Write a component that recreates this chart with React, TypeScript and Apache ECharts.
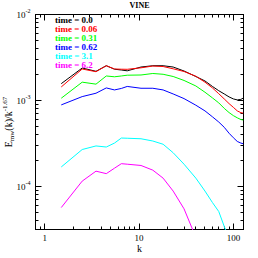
import React, { useEffect, useRef } from 'react';
import * as echarts from 'echarts';

// wavenumbers k (shared by all curves)
const K = [1.5, 2.5, 3.5, 4.5, 5.5, 6.5, 7.5, 10.5, 14, 18, 23, 30, 40, 50, 60, 70, 80, 90, 100, 110, 120, 127];

// compensated spectra E(k)/k^-1.67 at each time
const E_T00 = [1.57e-3, 2.386e-3, 2.185e-3, 2.537e-3, 2.311e-3, 2.262e-3, 2.214e-3, 2.451e-3, 2.537e-3, 2.537e-3, 2.451e-3, 2.203e-3, 1.902e-3, 1.687e-3, 1.457e-3, 1.299e-3, 1.192e-3, 1.101e-3, 1.043e-3, 1.016e-3, 1.03e-3, 1.066e-3];
const E_T006 = [1.438e-3, 2.324e-3, 2.162e-3, 2.537e-3, 2.324e-3, 2.311e-3, 2.305e-3, 2.399e-3, 2.517e-3, 2.484e-3, 2.336e-3, 2.174e-3, 1.912e-3, 1.634e-3, 1.4e-3, 1.199e-3, 1.043e-3, 9.2e-4, 8.32e-4, 7.57e-4, 7.22e-4, 7.12e-4];
const E_T031 = [1.063e-3, 1.634e-3, 1.549e-3, 1.928e-3, 1.887e-3, 1.928e-3, 1.969e-3, 1.98e-3, 2.061e-3, 2.018e-3, 1.902e-3, 1.71e-3, 1.476e-3, 1.248e-3, 1.072e-3, 9.38e-4, 8.1e-4, 7.24e-4, 6.67e-4, 6.29e-4, 6.01e-4, 5.93e-4];
const E_T062 = [8.89e-4, 1.11e-3, 1.215e-3, 1.4e-3, 1.327e-3, 1.381e-3, 1.457e-3, 1.388e-3, 1.388e-3, 1.327e-3, 1.192e-3, 1.052e-3, 8.82e-4, 7.57e-4, 6.46e-4, 5.62e-4, 4.88e-4, 4.16e-4, 3.69e-4, 3.34e-4, 3.2e-4, 3.14e-4];
const E_T31 = [1.687e-4, 2.691e-4, 2.962e-4, 2.877e-4, 3.2e-4, 3.66e-4, 3.64e-4, 3.59e-4, 3.38e-4, 3.1e-4, 2.47e-4, 1.817e-4, 1.251e-4, 8.85e-5, 6.51e-5, 5.12e-5, 3.43e-5, 2.42e-5, 1.86e-5, 1.5e-5, 1.25e-5, 1.15e-5];
const E_T62 = [5.69e-5, 1.155e-4, 1.508e-4, 1.411e-4, 1.633e-4, 1.842e-4, 1.817e-4, 1.756e-4, 1.549e-4, 1.251e-4, 8.85e-5, 5.5e-5, 2.56e-5, 1.5e-5, 9.8e-6, 6.5e-6, 4.5e-6, 3.2e-6, 2.3e-6, 1.7e-6, 1.3e-6, 1.1e-6];

const TIMES = ['0.0', '0.06', '0.31', '0.62', '3.1', '6.2'];
const SERIES_VALUES = [E_T00, E_T006, E_T031, E_T062, E_T31, E_T62];
const COLORS = ['#000000', '#ff0000', '#00ff00', '#0000ff', '#00ffff', '#ff00ff'];

// axis ranges and minor tick positions
const K_MIN = 0.8;
const K_MAX = 128;
const E_MIN = Math.pow(10, -4.5);
const E_MAX = 1e-2;
const K_MINOR = [0.9, 2, 3, 4, 5, 6, 7, 8, 9, 20, 30, 40, 50, 60, 70, 80, 90];
const E_MINOR = [4e-5, 5e-5, 6e-5, 7e-5, 8e-5, 9e-5, 2e-4, 3e-4, 4e-4, 5e-4, 6e-4, 7e-4, 8e-4, 9e-4, 2e-3, 3e-3, 4e-3, 5e-3, 6e-3, 7e-3, 8e-3, 9e-3];

const FONT = '"Liberation Serif", "DejaVu Serif", serif';
const LINE = { color: '#000', width: 1 };
const MINOR_LEN = 3;

const isDecade = (v: number) => Math.abs(Math.log10(v) - Math.round(Math.log10(v))) < 1e-6;

export default function App() {
  const ref = useRef<HTMLDivElement>(null);
  useEffect(() => {
    if (!ref.current) return;
    const chart = echarts.init(ref.current, null, { renderer: 'svg' });
    const majorX = (pos: string, labels: boolean) => ({
      type: 'log', logBase: 10, position: pos, min: K_MIN, max: K_MAX,
      axisLine: { show: true, lineStyle: LINE },
      axisTick: { show: true, inside: true, length: 6, lineStyle: LINE },
      splitLine: { show: false },
      axisLabel: labels ? {
        show: true, interval: 0, margin: 4, fontFamily: FONT, fontSize: 9, color: '#000',
        formatter: (v: number) => (isDecade(v) ? String(Math.round(v)) : ''),
      } : { show: false },
      ...(labels ? { name: 'k', nameLocation: 'middle', nameGap: 14, nameMoveOverlap: false, nameTextStyle: { fontFamily: FONT, fontSize: 10, color: '#000' } } : {}),
    });
    const majorY = (pos: string, labels: boolean) => ({
      type: 'log', logBase: 10, position: pos, min: E_MIN, max: E_MAX,
      axisLine: { show: true, lineStyle: LINE },
      axisTick: { show: true, inside: true, length: 6, lineStyle: LINE },
      splitLine: { show: false },
      axisLabel: labels ? {
        show: true, interval: 0, margin: 5, fontFamily: FONT, color: '#000',
        formatter: (v: number) => (isDecade(v) ? `{b|10}{s|-${-Math.round(Math.log10(v))}}` : ''),
        rich: {
          b: { fontFamily: FONT, fontSize: 9, lineHeight: 13, color: '#000' },
          s: { fontFamily: FONT, fontSize: 6, lineHeight: 6, verticalAlign: 'top', color: '#000' },
        },
      } : { show: false },
      ...(labels ? {
        name: '{n|E}{sub|mw}{n|(k)/k}{sup|-1.67}', nameLocation: 'middle', nameGap: 20, nameRotate: 90,
        nameMoveOverlap: false,
        nameTextStyle: {
          fontFamily: FONT, color: '#000',
          rich: {
            n: { fontFamily: FONT, fontSize: 10, lineHeight: 14, color: '#000' },
            sub: { fontFamily: FONT, fontSize: 7, lineHeight: 7, verticalAlign: 'bottom', color: '#000' },
            sup: { fontFamily: FONT, fontSize: 7, lineHeight: 7, verticalAlign: 'top', color: '#000' },
          },
        },
      } : {}),
    });

    const tickLine = (x1: number, y1: number, x2: number, y2: number) => ({
      type: 'line', shape: { x1, y1, x2, y2 }, style: { stroke: '#000', lineWidth: 1 },
    });

    chart.setOption({
      animation: false,
      backgroundColor: '#fff',
      title: {
        text: 'VINE', left: 139.5, top: 1, textAlign: 'center', padding: 0,
        textStyle: { fontFamily: FONT, fontSize: 8, fontWeight: 'bold', color: '#000' },
      },
      legend: {
        orient: 'vertical', left: 50, top: 15.75, padding: 0, itemGap: 0,
        itemWidth: 0, itemHeight: 0, selectedMode: false,
        itemStyle: { opacity: 0 }, lineStyle: { opacity: 0 },
        textStyle: { fontFamily: FONT, fontSize: 9, fontWeight: 'bold', lineHeight: 8.5 },
        data: TIMES.map((t, i) => ({ name: `time = ${t}`, icon: 'rect', itemStyle: { opacity: 0 }, textStyle: { color: COLORS[i] } })),
      },
      grid: { left: 35.5, right: 14.5, top: 14.5, bottom: 28.5, containLabel: false, outerBoundsMode: 'none' },
      xAxis: [majorX('bottom', true), majorX('top', false)],
      yAxis: [majorY('left', true), majorY('right', false)],
      series: [
        ...TIMES.map((t, i) => ({
          name: `time = ${t}`,
          type: 'line',
          xAxisIndex: 0,
          yAxisIndex: 0,
          showSymbol: false,
          symbol: 'none',
          clip: true,
          lineStyle: { color: COLORS[i], width: 1 },
          itemStyle: { color: COLORS[i] },
          data: K.map((k, j) => [k, SERIES_VALUES[i][j]]),
        })),
        {
          name: 'minor-k-ticks', type: 'custom', xAxisIndex: 0, yAxisIndex: 0, silent: true, clip: false,
          data: K_MINOR.map((k) => [k, E_MAX]),
          renderItem: (params: any, api: any) => {
            const p = api.coord([api.value(0), E_MAX]);
            const cs = params.coordSys;
            const x = Math.round(p[0] - 0.5) + 0.5;
            return {
              type: 'group',
              children: [
                tickLine(x, cs.y + cs.height, x, cs.y + cs.height - MINOR_LEN),
                tickLine(x, cs.y, x, cs.y + MINOR_LEN),
              ],
            };
          },
        },
        {
          name: 'minor-e-ticks', type: 'custom', xAxisIndex: 0, yAxisIndex: 0, silent: true, clip: false,
          data: E_MINOR.map((e) => [K_MIN, e]),
          renderItem: (params: any, api: any) => {
            const p = api.coord([K_MIN, api.value(1)]);
            const cs = params.coordSys;
            const y = Math.round(p[1] - 0.5) + 0.5;
            return {
              type: 'group',
              children: [
                tickLine(cs.x, y, cs.x + MINOR_LEN, y),
                tickLine(cs.x + cs.width, y, cs.x + cs.width - MINOR_LEN, y),
              ],
            };
          },
        },
      ],
    });
    return () => chart.dispose();
  }, []);
  return <div ref={ref} style={{ position: 'absolute', left: 0, top: 0, width: 258, height: 258, background: '#fff' }} />;
}
